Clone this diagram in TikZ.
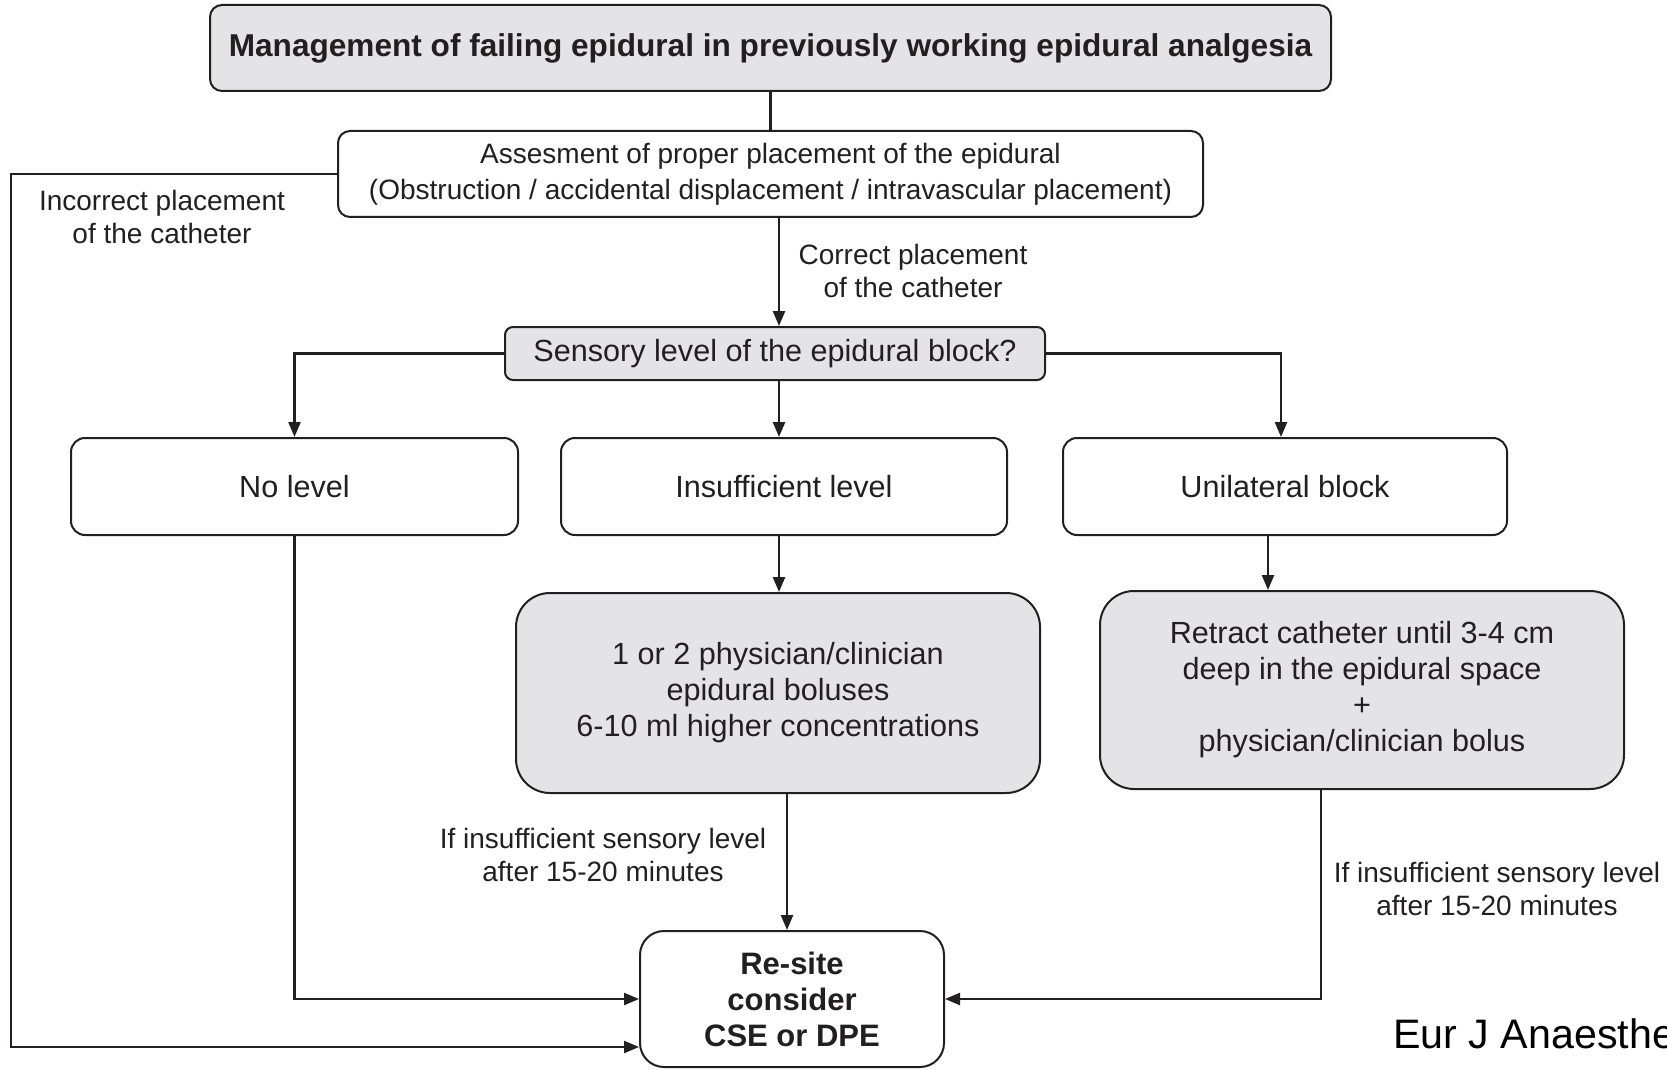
\documentclass[tikz,border=0pt]{standalone}
\usepackage{fontspec}
\setmainfont{Liberation Sans}
\usetikzlibrary{arrows.meta,calc}
\definecolor{ink}{HTML}{231F20}
\definecolor{boxgray}{HTML}{E4E4E6}
\begin{document}
\begin{tikzpicture}[x=0.5pt,y=-0.5pt,
  box/.style={draw=ink, line width=1pt, text=ink, align=center, inner sep=0pt, rounded corners=#1},
  box/.default=6pt,
  mainfont/.style={font=\fontsize{15.3}{18}\selectfont},
  lbl/.style={text=ink, align=center, inner sep=0pt, font=\fontsize{14}{16.6}\selectfont},
  conn/.style={draw=ink, line width=1.2pt},
  arr/.style={conn, -{Triangle[length=7.5pt,width=6pt]}}
]
\useasboundingbox (0,0) rectangle (1667,1070);

% boxes
\node[box=6pt, fill=boxgray, minimum width=560.5pt, minimum height=43pt,
      font=\fontsize{15.8}{18}\selectfont\bfseries] (top) at (770.5,48)
  {Management of failing epidural in previously working epidural analgesia};
\node[box=6pt, fill=white, minimum width=432.5pt, minimum height=43pt,
      font=\fontsize{14}{18}\selectfont] (assess) at (770.5,174)
  {Assesment of proper placement of the epidural\\(Obstruction / accidental displacement / intravascular placement)};
\node[box=4pt, fill=boxgray, minimum width=270pt, minimum height=26.5pt, mainfont] (sensory) at (775,353.5)
  {Sensory level of the epidural block?};
\node[box=7pt, fill=white, minimum width=223.5pt, minimum height=48.5pt, mainfont] (nolevel) at (294.5,486.5)
  {No level};
\node[box=7pt, fill=white, minimum width=223pt, minimum height=48.5pt, mainfont] (insuff) at (784,486.5)
  {Insufficient level};
\node[box=7pt, fill=white, minimum width=222pt, minimum height=48.5pt, mainfont] (unilat) at (1285,486.5)
  {Unilateral block};
\node[box=17pt, fill=boxgray, minimum width=262pt, minimum height=100pt, mainfont] (bolus) at (778,693)
  {1 or 2 physician/clinician\\epidural boluses\\6-10 ml higher concentrations};
\node[box=17pt, fill=boxgray, minimum width=262pt, minimum height=99pt, mainfont] (retract) at (1362,690)
  {Retract catheter until 3-4 cm\\deep in the epidural space\\+\\physician/clinician bolus};
\node[box=12pt, fill=white, minimum width=152pt, minimum height=68pt,
      font=\fontsize{15.5}{18}\selectfont\bfseries] (resite) at (792,999)
  {Re-site\\consider\\CSE or DPE};

% labels
\node[lbl] (lInc) at (162,217) {Incorrect placement\\of the catheter};
\node[lbl] (lCor) at (913,271) {Correct placement\\of the catheter};
\node[lbl] (lIns1) at (603,855) {If insufficient sensory level\\after 15-20 minutes};
\node[lbl] (lIns2) at (1497,889) {If insufficient sensory level\\after 15-20 minutes};
\node[anchor=west, inner sep=0pt, text=black, font=\fontsize{20.6}{24}\selectfont] (src) at (1393,1034) {Eur J Anaesthe};

% helper coordinates
\coordinate (xA) at (779,0);
\coordinate (xB) at (1268,0);
\coordinate (xC) at (787,0);
\coordinate (xD) at (1321,0);
\coordinate (xE) at (1281,0);
\coordinate (xL) at (11,1047);

% connectors
\draw[conn] (top.south) -- (assess.north);
\draw[arr] (assess.south -| xA) -- (sensory.north -| xA);
\draw[arr] (sensory.west) -| (nolevel.north);
\draw[arr] (sensory.south -| xA) -- (insuff.north -| xA);
\draw[arr] (sensory.east) -| (unilat.north -| xE);
\draw[arr] (insuff.south -| xA) -- (bolus.north -| xA);
\draw[arr] (unilat.south -| xB) -- (retract.north -| xB);
\draw[arr] (bolus.south -| xC) -- (resite.north -| xC);
\draw[arr] (retract.south -| xD) |- (resite.east);
\draw[arr] (nolevel.south) |- (resite.west);
\draw[arr] (assess.west) -| (xL) -- (xL -| resite.west);
\end{tikzpicture}
\end{document}
